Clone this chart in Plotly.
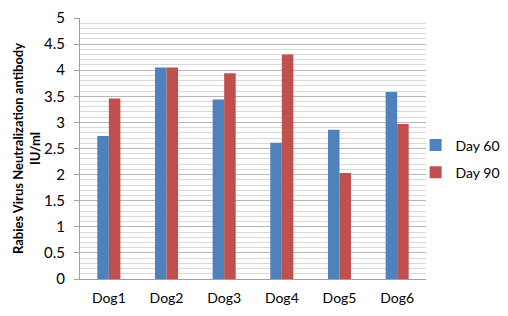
import plotly.graph_objects as go

categories = ["Dog1", "Dog2", "Dog3", "Dog4", "Dog5", "Dog6"]
day60 = [2.74, 4.05, 3.44, 2.61, 2.86, 3.58]
day90 = [3.46, 4.05, 3.94, 4.30, 2.03, 2.97]
yticks = [0, 0.5, 1, 1.5, 2, 2.5, 3, 3.5, 4, 4.5, 5]

fig = go.Figure()
fig.add_trace(go.Bar(x=categories, y=day60, name="Day 60", legendgroup="a",
                     marker=dict(color="#4F81BD", line=dict(width=0))))
fig.add_trace(go.Bar(x=categories, y=day90, name="Day 90", legendgroup="b",
                     marker=dict(color="#C0504D", line=dict(width=0))))

font = "Lato, 'Open Sans', sans-serif"
fig.update_layout(
    width=508, height=316,
    margin=dict(l=80, r=82, t=18, b=37, autoexpand=False),
    paper_bgcolor="white", plot_bgcolor="white",
    barmode="group", bargap=0.6, bargroupgap=0,
    font=dict(family=font, size=14, color="#000000"),
    legend=dict(x=0.97, y=0.46, xanchor="left", yanchor="middle",
                bgcolor="rgba(0,0,0,0)",
                font=dict(size=14), itemwidth=30, tracegroupgap=6),
    yaxis=dict(
        range=[0, 5], tickvals=yticks, ticktext=[str(v) for v in yticks],
        showgrid=True, gridcolor="#b8b8b8", gridwidth=1,
        minor=dict(dtick=0.1, showgrid=True, gridcolor="#d9d9d9", gridwidth=1),
        showline=True, linecolor="#a0a0a0", ticks="outside", ticklen=5, tickcolor="#a0a0a0",
        ticklabelstandoff=6,
        tickfont=dict(size=15),
        title=dict(text="<b>Rabies Virus Neutralization antibody<br>IU/ml</b>",
                   font=dict(size=13), standoff=0),
        zeroline=False, automargin=False,
    ),
    xaxis=dict(
        showline=True, linecolor="#a0a0a0", tickfont=dict(size=14),
        ticks="", showgrid=False, automargin=False, ticklabelstandoff=6,
    ),
)
fig.write_html("out.html", config={"displayModeBar": False},
               post_script="document.body.style.margin='0';document.body.style.overflow='hidden';")
